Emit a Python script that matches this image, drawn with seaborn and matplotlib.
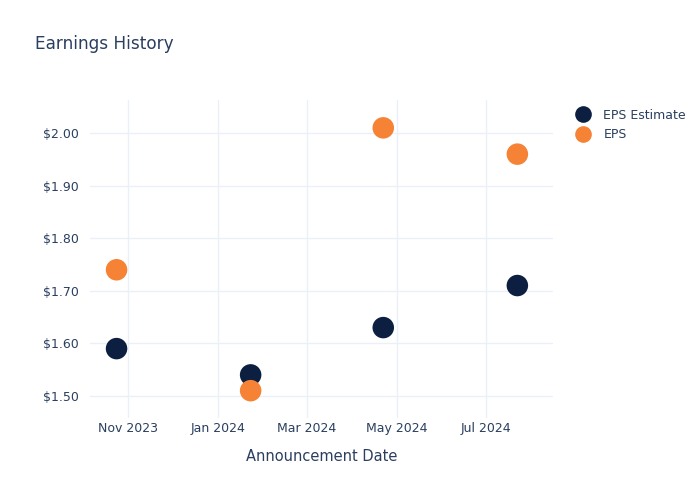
import matplotlib
matplotlib.use("Agg")
import matplotlib.pyplot as plt
import matplotlib.dates as mdates
import matplotlib.ticker as mticker
import seaborn as sns
import pandas as pd

dates = ["2023-10-24", "2024-01-23", "2024-04-22", "2024-07-22"]
eps_estimate = [1.59, 1.54, 1.63, 1.71]
eps_actual = [1.74, 1.51, 2.01, 1.96]
series_names = ["EPS Estimate", "EPS"]
colors = ["#0c1f40", "#f58235"]

df = pd.DataFrame({
    "date": pd.to_datetime(dates * 2),
    "value": eps_estimate + eps_actual,
    "series": [series_names[0]] * len(dates) + [series_names[1]] * len(dates),
})

sns.set_theme(style="white")
plt.rcParams['font.family'] = ['DejaVu Sans']
text_color = "#2a3f5f"

fig = plt.figure(figsize=(7, 5), dpi=100)
ax = fig.add_axes([0.1286, 0.164, 0.661, 0.636])

sns.scatterplot(data=df, x="date", y="value", hue="series", hue_order=series_names,
                palette=colors, s=240, edgecolor="none", ax=ax, zorder=3)

ax.set_ylim(1.458, 2.063)
ax.set_xlim(pd.Timestamp("2023-10-06"), pd.Timestamp("2024-08-15"))
ax.yaxis.set_major_locator(mticker.MultipleLocator(0.1))
ax.yaxis.set_major_formatter(mticker.FuncFormatter(lambda v, p: f"${v:.2f}"))
ax.xaxis.set_major_locator(mdates.MonthLocator(bymonth=[1, 3, 5, 7, 9, 11]))
ax.xaxis.set_major_formatter(mdates.DateFormatter("%b %Y"))

ax.grid(True, color="#ebf0f8", linewidth=1)
ax.set_axisbelow(True)
for s in ax.spines.values():
    s.set_visible(False)
ax.tick_params(axis="y", length=0, labelsize=9, colors=text_color, pad=8)
ax.tick_params(axis="x", length=0, labelsize=9, colors=text_color, pad=3)
ax.set_xlabel("Announcement Date", fontsize=10.5, color=text_color, labelpad=10)
ax.set_ylabel("")

fig.text(0.05, 0.912, "Earnings History", fontsize=12.2, color=text_color, va="center")

leg = ax.legend(loc="upper left", bbox_to_anchor=(1.015, 1.008), frameon=False,
                fontsize=9, labelcolor=text_color, handletextpad=0.6,
                labelspacing=0.5)
for h in leg.legend_handles:
    if hasattr(h, "set_markersize"):
        h.set_markersize(12)
    elif hasattr(h, "set_sizes"):
        h.set_sizes([180])

fig.savefig("out.png", dpi=100)
